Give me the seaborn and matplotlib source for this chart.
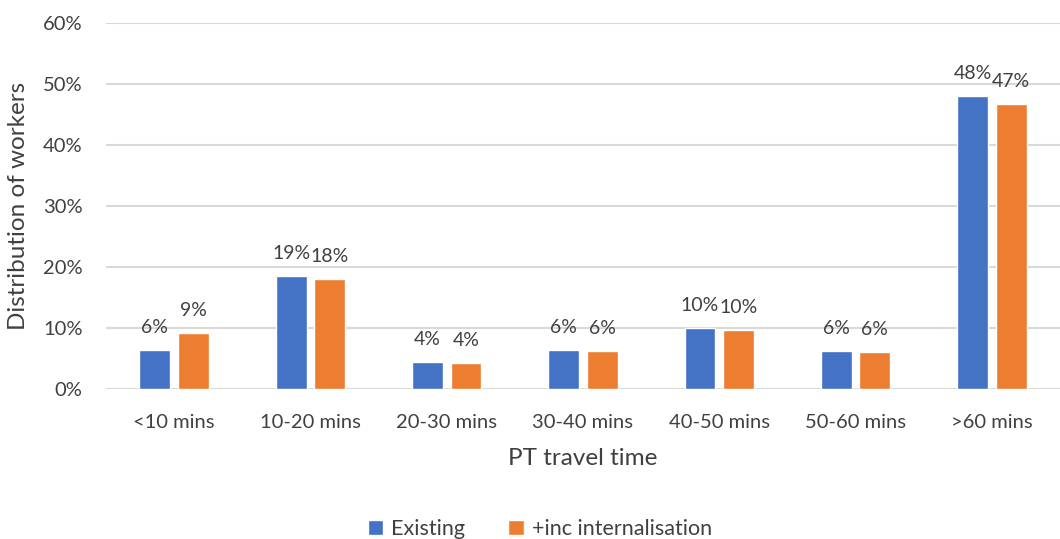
import pandas as pd
import matplotlib.pyplot as plt
import seaborn as sns
from matplotlib.ticker import PercentFormatter

# Data (percent of workers)
categories = ['<10 mins', '10-20 mins', '20-30 mins', '30-40 mins',
              '40-50 mins', '50-60 mins', '>60 mins']
existing = [6.5, 18.6, 4.4, 6.5, 10.0, 6.3, 48.0]
internalisation = [9.2, 18.1, 4.3, 6.3, 9.7, 6.1, 46.7]
series = ['Existing', '+inc internalisation']
colors = ['#4472C4', '#ED7D31']

df = pd.DataFrame({
    'time': categories * 2,
    'share': existing + internalisation,
    'series': [series[0]] * len(categories) + [series[1]] * len(categories),
})

sns.set_style('white')
plt.rcParams['font.family'] = ['Lato', 'DejaVu Sans']
txt = '#404040'

fig = plt.figure(figsize=(10.6, 5.39), dpi=100)
ax = fig.add_axes([0.1, 0.278, 0.9, 0.679])

sns.barplot(data=df, x='time', y='share', hue='series', order=categories,
            hue_order=series, palette=colors, width=0.565, gap=0.2,
            saturation=1, ax=ax)

# percentage labels above the bars (Excel-style rounding, 6.5 -> 6%)
for c in ax.containers:
    labels = [f'{int(v)}%' if v % 1 <= 0.5 else f'{int(v) + 1}%'
              for v in c.datavalues]
    ax.bar_label(c, labels=labels, padding=10, fontsize=14, color=txt)

ax.set_ylim(0, 60)
ax.set_xlim(-0.5, 6.5)
ax.set_yticks(range(0, 61, 10))
ax.yaxis.set_major_formatter(PercentFormatter(decimals=0))
ax.grid(axis='y', color='#d9d9d9', linewidth=1.5)
ax.set_axisbelow(True)
for s in ['top', 'right', 'left', 'bottom']:
    ax.spines[s].set_visible(False)
ax.tick_params(axis='both', length=0, labelsize=14.5, colors=txt)
ax.tick_params(axis='x', pad=18)
ax.tick_params(axis='y', pad=17)

ax.set_xlabel('PT travel time', fontsize=17.5, color=txt, labelpad=12)
ax.set_ylabel('Distribution of workers', fontsize=17.5, color=txt, labelpad=10)

ax.legend_.remove()
handles, labels = ax.get_legend_handles_labels()
leg = fig.legend(handles, labels, loc='center',
                 bbox_to_anchor=(540 / 1060, 1 - 529 / 539), ncol=2,
                 frameon=False, fontsize=15.5, handlelength=0.7,
                 handleheight=0.7, columnspacing=2.0, handletextpad=0.4)
for t in leg.get_texts():
    t.set_color(txt)

fig.savefig('out.png', dpi=100)
